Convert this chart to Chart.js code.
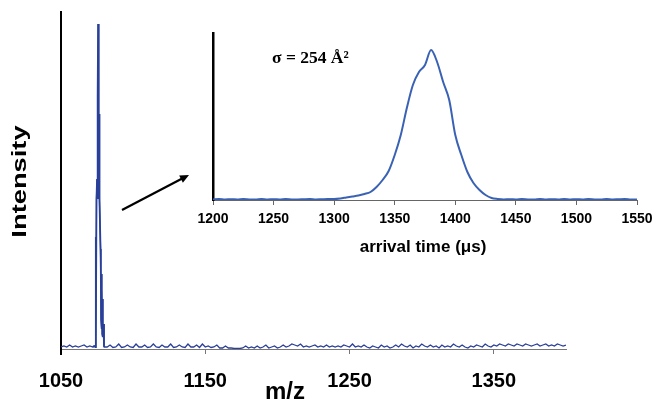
<!DOCTYPE html>
<html><head><meta charset="utf-8">
<script src="https://cdn.jsdelivr.net/npm/chart.js@4"></script>
<style>
html,body{margin:0;padding:0;background:#fff;}
#wrap{position:relative;width:654px;height:399px;overflow:hidden;}
canvas{position:absolute;left:0;top:0;}
</style>
</head><body>
<div id="wrap"><canvas id="main" width="654" height="399"></canvas><canvas id="inset" width="654" height="399"></canvas></div>
<script>
// ---- Mass spectrum (main chart) ----
const mzTickLabels = [1050, 1150, 1250, 1350];
const noiseLeftStart = 1050;
const noiseStep = 2;
const noiseLeft = [2, 3, 2, 4, 2, 3, 2, 3, 4, 2, 3];
const peakMz = [1072, 1073, 1073.9, 1074.1, 1074.2, 1074.6, 1075.0, 1075.2, 1075.3, 1075.38, 1075.45, 1075.52, 1075.6, 1075.75, 1075.9, 1075.97, 1076.05, 1076.12, 1076.2, 1076.28, 1076.35, 1076.42, 1076.5, 1076.57, 1076.65, 1076.8, 1077.0, 1077.4, 1077.6, 1077.8, 1078.0, 1078.2, 1078.4, 1078.6, 1078.8, 1079.1, 1079.5, 1079.8, 1080];
const peakIntensity = [2, 3, 2, 112, 10, 150, 170, 175, 250, 160, 245, 150, 252, 325, 250, 155, 245, 150, 240, 150, 235, 150, 230, 155, 200, 150, 150, 100, 80, 30, 75, 20, 60, 15, 50, 12, 25, 3, 2];
const noiseRightStart = 1082;
const noiseRight = [
  2, 4, 1.5, 2, 5, 1.5, 2, 4, 2, 1.5,
  5, 2, 2, 4, 1.5, 2, 5, 2, 1.5, 4,
  2, 2, 5, 1.5, 2, 4, 2, 1.5, 5, 2,
  2, 4, 1.5, 5, 2, 3, 1.5, 2, 4, 1,
  1, 3, 1, 1, 0.5, 0.5, 0.5, 1, 3, 1,
  2, 1, 3, 1, 2, 4, 1, 2, 3, 1,
  2, 4, 2, 3, 5, 4, 3, 5, 2, 3,
  2, 3, 4, 2, 3, 2, 4, 2, 3, 2,
  3, 2, 4, 3, 2, 5, 2, 3, 2, 4,
  2, 1, 3, 2, 1, 4, 2, 3, 1, 2,
  4, 2, 5, 3, 2, 4, 1, 3, 2, 5,
  3, 2, 4, 2, 3, 1, 4, 2, 3, 2,
  5, 3, 2, 4, 2, 1, 3, 2, 4, 3,
  2, 5, 3, 2, 4, 3, 5, 4, 3, 5,
  4, 3, 5, 4, 3, 5, 4, 3, 4, 5,
  3, 4, 5, 3, 4, 3, 5, 4, 3, 4
];

// ---- Arrival time distribution (inset) ----
const arrivalStart = 1200;
const arrivalStep = 5;
const arrivalIntensity = [
  0.5, 1, 0.5, 0.8, 0.5, 1, 0.6, 0.5, 1, 0.5, 0.8, 0.5, 1, 0.6, 0.5, 0.8, 1, 0.5, 0.8, 1,
  1, 1.5, 2.5, 3.5, 4.5, 6, 8, 13, 20, 29,
  45, 65, 92, 115, 128, 135, 150, 138, 118, 100,
  65, 45, 28, 17, 10, 5, 2, 1, 0.5, 0.8,
  0.5, 1, 0.6, 0.5, 1, 0.5, 0.8, 0.5, 1, 0.5,
  0.8, 0.5, 1, 0.6, 0.5, 1, 0.5, 0.8, 1, 0.5, 0.6
];
const arrivalTickLabels = [1200, 1250, 1300, 1350, 1400, 1450, 1500, 1550];

// ---- build point tables ----
const mainPoints = [];
noiseLeft.forEach((v, i) => mainPoints.push({x: noiseLeftStart + i * noiseStep, y: v}));
peakMz.forEach((m, i) => mainPoints.push({x: m, y: peakIntensity[i]}));
noiseRight.forEach((v, i) => mainPoints.push({x: noiseRightStart + i * noiseStep, y: v}));
const peakPoints = peakMz.map((m, i) => ({x: m, y: peakIntensity[i]}));
const insetPoints = arrivalIntensity.map((v, i) => ({x: arrivalStart + i * arrivalStep, y: v}));

const SANS = "'Liberation Sans', Arial, sans-serif";
const SERIF = "'Liberation Serif', 'Times New Roman', serif";

const mainText = {
  id: 'mainText',
  afterDraw(chart) {
    const ctx = chart.ctx;
    const area = chart.chartArea;
    ctx.save();
    // y axis continues slightly below the x axis
    ctx.strokeStyle = '#000';
    ctx.lineWidth = 2;
    ctx.beginPath();
    ctx.moveTo(area.left, area.bottom);
    ctx.lineTo(area.left, area.bottom + 6);
    ctx.stroke();
    ctx.fillStyle = '#000';
    // y-axis title
    ctx.save();
    ctx.translate(20.5, 181.5);
    ctx.rotate(-Math.PI / 2);
    ctx.scale(1.3, 1);
    ctx.font = 'bold 21px ' + SANS;
    ctx.textAlign = 'center';
    ctx.textBaseline = 'middle';
    ctx.fillText('Intensity', 0, 0);
    ctx.restore();
    // x-axis title
    ctx.font = 'bold 24px ' + SANS;
    ctx.textAlign = 'center';
    ctx.textBaseline = 'alphabetic';
    ctx.fillText('m/z', 285, 399);
    // arrow
    const x1 = 122, y1 = 210, x2 = 189, y2 = 175;
    const ang = Math.atan2(y2 - y1, x2 - x1);
    ctx.strokeStyle = '#000';
    ctx.lineWidth = 2.2;
    ctx.beginPath();
    ctx.moveTo(x1, y1);
    ctx.lineTo(x2 - 5 * Math.cos(ang), y2 - 5 * Math.sin(ang));
    ctx.stroke();
    ctx.beginPath();
    ctx.moveTo(x2, y2);
    ctx.lineTo(x2 - 9 * Math.cos(ang) + 4 * Math.sin(ang), y2 - 9 * Math.sin(ang) - 4 * Math.cos(ang));
    ctx.lineTo(x2 - 9 * Math.cos(ang) - 4 * Math.sin(ang), y2 - 9 * Math.sin(ang) + 4 * Math.cos(ang));
    ctx.closePath();
    ctx.fill();
    ctx.restore();
  }
};

const insetText = {
  id: 'insetText',
  afterDraw(chart) {
    const ctx = chart.ctx;
    ctx.save();
    ctx.fillStyle = '#000';
    ctx.font = 'bold 17px ' + SANS;
    ctx.textAlign = 'center';
    ctx.textBaseline = 'alphabetic';
    ctx.fillText('arrival time (\u03bcs)', 423, 252);
    ctx.font = 'bold 17.5px ' + SERIF;
    ctx.textAlign = 'left';
    ctx.fillText('\u03c3 = 254 \u00c5\u00b2', 272, 63);
    ctx.restore();
  }
};

new Chart(document.getElementById('main'), {
  type: 'line',
  data: {datasets: [
    {data: mainPoints, borderColor: '#2a3f98', borderWidth: 1.3, pointRadius: 0, tension: 0, fill: false},
    {data: peakPoints, borderColor: '#2b47a3', borderWidth: 1.8, pointRadius: 0, tension: 0, fill: false}
  ]},
  options: {
    responsive: false, animation: false, devicePixelRatio: 1,
    layout: {padding: {top: 12, right: 88, left: 0, bottom: 0}},
    plugins: {legend: {display: false}, tooltip: {enabled: false}},
    scales: {
      x: {
        type: 'linear', min: 1050, max: 1400,
        afterBuildTicks: s => { s.ticks = mzTickLabels.map(v => ({value: v})); },
        afterFit: s => { s.height = 50; s.paddingLeft = 0; s.paddingRight = 0; },
        grid: {display: true, drawOnChartArea: false, drawTicks: true, tickLength: 5, color: '#777'},
        border: {display: true, color: '#777', width: 1},
        ticks: {padding: 15, color: '#000', autoSkip: false, maxRotation: 0,
          font: {family: SANS, size: 20, weight: 'bold'}, callback: v => String(v)}
      },
      y: {
        min: 0, max: 337,
        afterFit: s => { s.width = 61; s.paddingTop = 0; s.paddingBottom = 0; },
        ticks: {display: false}, grid: {display: false},
        border: {display: true, color: '#000', width: 2}
      }
    }
  },
  plugins: [mainText]
});

new Chart(document.getElementById('inset'), {
  type: 'line',
  data: {datasets: [{data: insetPoints, borderColor: '#3a62b4', borderWidth: 2, pointRadius: 0, cubicInterpolationMode: 'monotone', fill: false}]},
  options: {
    responsive: false, animation: false, devicePixelRatio: 1,
    layout: {padding: {top: 33, right: 17, left: 0, bottom: 0}},
    plugins: {legend: {display: false}, tooltip: {enabled: false}},
    scales: {
      x: {
        type: 'linear', min: 1200, max: 1550,
        afterBuildTicks: s => { s.ticks = arrivalTickLabels.map(v => ({value: v})); },
        afterFit: s => { s.height = 199; s.paddingLeft = 0; s.paddingRight = 0; },
        grid: {display: true, drawOnChartArea: false, drawTicks: true, tickLength: 5, color: '#666'},
        border: {display: true, color: '#666', width: 1},
        ticks: {padding: 6, color: '#000', autoSkip: false, maxRotation: 0,
          font: {family: SANS, size: 14, weight: 'bold'}, callback: v => String(v)}
      },
      y: {
        min: 0, max: 167,
        afterFit: s => { s.width = 213; s.paddingTop = 0; s.paddingBottom = 0; },
        ticks: {display: false}, grid: {display: false},
        border: {display: true, color: '#000', width: 2.5}
      }
    }
  },
  plugins: [insetText]
});
</script>
</body></html>
